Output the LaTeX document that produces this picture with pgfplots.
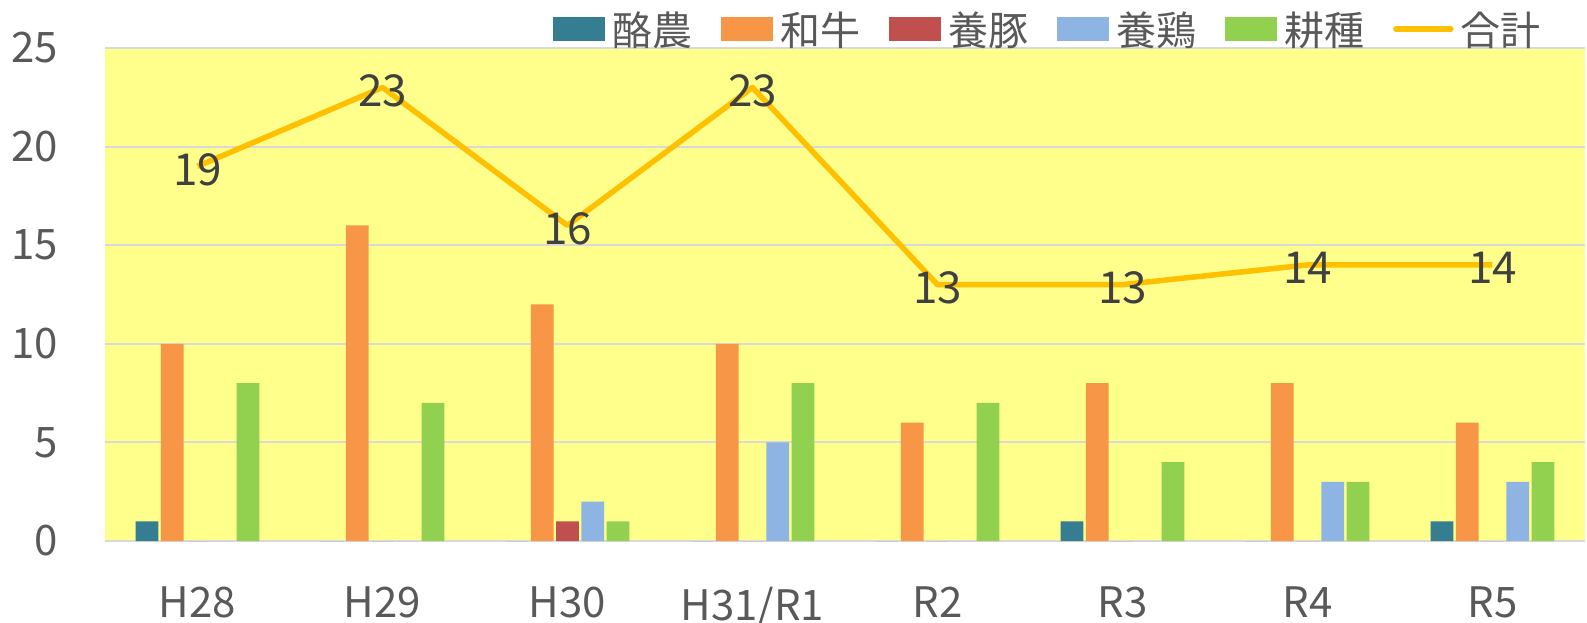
\documentclass[border=0pt]{standalone}
\usepackage{fontspec}
\setmainfont{Noto Sans CJK JP}
\usepackage{pgfplots}
\pgfplotsset{compat=1.18}
\definecolor{cDairy}{HTML}{357D91}
\definecolor{cBeef}{HTML}{F79646}
\definecolor{cPig}{HTML}{C0504D}
\definecolor{cHen}{HTML}{8DB4E2}
\definecolor{cCrop}{HTML}{92D050}
\definecolor{cTot}{HTML}{FFC000}
\definecolor{cBg}{HTML}{FFFF8B}
\definecolor{cGrid}{HTML}{D9D9D9}
\definecolor{cTxt}{HTML}{595959}
\definecolor{cLab}{HTML}{404040}
\pgfplotsset{
  barleg/.style={legend image code/.code={\fill[##1] (0bp,-12bp) rectangle (52bp,12bp);}},
  lineleg/.style={legend image code/.code={\draw[##1, line cap=round] (0bp,0bp) -- (55bp,0bp);}},
  mybar/.style={ybar, bar width=22.7bp, draw=none, barleg},
}
\pgfplotstableread{
x dairy beef pig hen crop total
0 1 10 0 0 8 19
1 0 16 0 0 7 23
2 0 12 1 2 1 16
3 0 10 0 5 8 23
4 0 6 0 0 7 13
5 1 8 0 0 4 13
6 0 8 0 3 3 14
7 1 6 0 3 4 14
}\datatable
\begin{document}
\begin{tikzpicture}
\useasboundingbox (0,0) rectangle (1587bp,623bp);
\begin{axis}[
  at={(105bp,82bp)}, anchor=south west,
  scale only axis, width=1480bp, height=493bp,
  xmin=-0.5, xmax=7.5, ymin=0, ymax=25,
  ytick={0,5,...,25},
  xtick={0,...,7},
  xticklabels={H28,H29,H30,H31/R1,R2,R3,R4,R5},
  axis line style={draw=none},
  major tick length=0pt,
  ymajorgrids, grid style={cGrid, line width=2bp},
  axis background/.style={fill=cBg},
  tick label style={font=\fontsize{42bp}{50bp}\selectfont, text=cTxt},
  /pgf/number format/assume math mode=true,
  yticklabel style={inner sep=0pt, anchor=east, xshift=-47bp},
  xticklabel style={inner sep=0pt, anchor=north, yshift=-46bp},
  legend columns=6,
  legend style={at={(0.3027,1.0385)}, anchor=west, draw=none, fill=none,
    inner sep=0pt, font=\fontsize{40bp}{48bp}\selectfont, text=cTxt,
    column sep=7bp, /tikz/every even column/.append style={column sep=29bp},
    nodes={inner sep=0pt}},
  clip=false,
]
\addplot[mybar, bar shift=-50.5bp, fill=cDairy] table[x=x,y=dairy]{\datatable};
\addlegendentry{酪農}
\addplot[mybar, bar shift=-25.25bp, fill=cBeef] table[x=x,y=beef]{\datatable};
\addlegendentry{和牛}
\addplot[mybar, bar shift=0bp, fill=cPig] table[x=x,y=pig]{\datatable};
\addlegendentry{養豚}
\addplot[mybar, bar shift=25.25bp, fill=cHen] table[x=x,y=hen]{\datatable};
\addlegendentry{養鶏}
\addplot[mybar, bar shift=50.5bp, fill=cCrop] table[x=x,y=crop]{\datatable};
\addlegendentry{耕種}
\addplot[sharp plot, cTot, line width=5.5bp, line join=round, mark=none, lineleg,
  nodes near coords, point meta=explicit symbolic,
  every node near coord/.style={anchor=center, yshift=-3bp, inner sep=0pt,
    font=\fontsize{44bp}{52bp}\selectfont, text=cLab}]
  table[x=x,y=total,meta=total]{\datatable};
\addlegendentry{合計}
\end{axis}
\end{tikzpicture}
\end{document}
